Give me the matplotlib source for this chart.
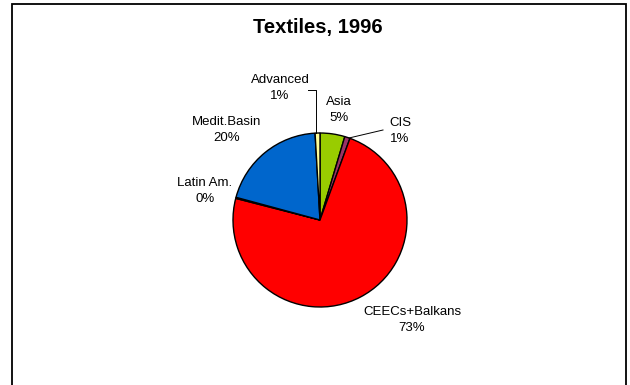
"""
Textiles 1996 - share by region, pie chart
"""

import matplotlib.pyplot as plt
from matplotlib.patches import Rectangle

plt.rcParams["font.family"] = ["Liberation Sans", "DejaVu Sans"]

# data, clockwise from 12 o'clock
regions = ["Asia", "CIS", "CEECs+Balkans", "Latin Am.", "Medit.Basin", "Advanced"]
shares = [4.6, 1.0, 73.4, 0.2, 19.9, 0.9]
colors = ["#99CC00", "#993366", "#FF0000", "#FF8080", "#0066CC", "#FFFF99"]

# label anchor points in pixel space (x from left, y from top)
label_pos = {
    "Asia": (339, 110),
    "CIS": (400, 131),
    "CEECs+Balkans": (412, 320),
    "Latin Am.": (205, 191),
    "Medit.Basin": (227, 130),
    "Advanced": (280, 88),
}

W, H = 630, 385
fig = plt.figure(figsize=(W / 100, H / 100), dpi=100)
ax = fig.add_axes([0, 0, 1, 1])

# chart area border (bottom edge runs off the canvas)
ax.add_patch(Rectangle((11.5, -20), 614.5, H - 3.5 + 20, fill=False,
                       edgecolor="black", linewidth=1.3, clip_on=False))

cx, cy, r = 320, H - 220, 87
wedges, _ = ax.pie(shares, colors=colors, startangle=90, counterclock=False,
                   center=(cx, cy), radius=r, frame=True,
                   wedgeprops=dict(edgecolor="black", linewidth=1.0))
ax.set_xlim(0, W)
ax.set_ylim(0, H)
ax.set_aspect("equal")
ax.axis("off")

for name, val in zip(regions, shares):
    x, y = label_pos[name]
    ax.text(x, H - y, f"{name}\n{round(val):.0f}%", ha="center", va="center",
            fontsize=9.5, linespacing=1.4)

# leader lines for the thin slices
ax.plot([308, 316, 316], [H - 90, H - 90, H - 133], color="black", lw=0.7)
ax.plot([349, 383], [H - 138, H - 130], color="black", lw=0.7)

ax.text(318, H - 27, "Textiles, 1996", ha="center", va="center",
        fontsize=14.5, fontweight="bold")

fig.savefig("out.png", dpi=100)
